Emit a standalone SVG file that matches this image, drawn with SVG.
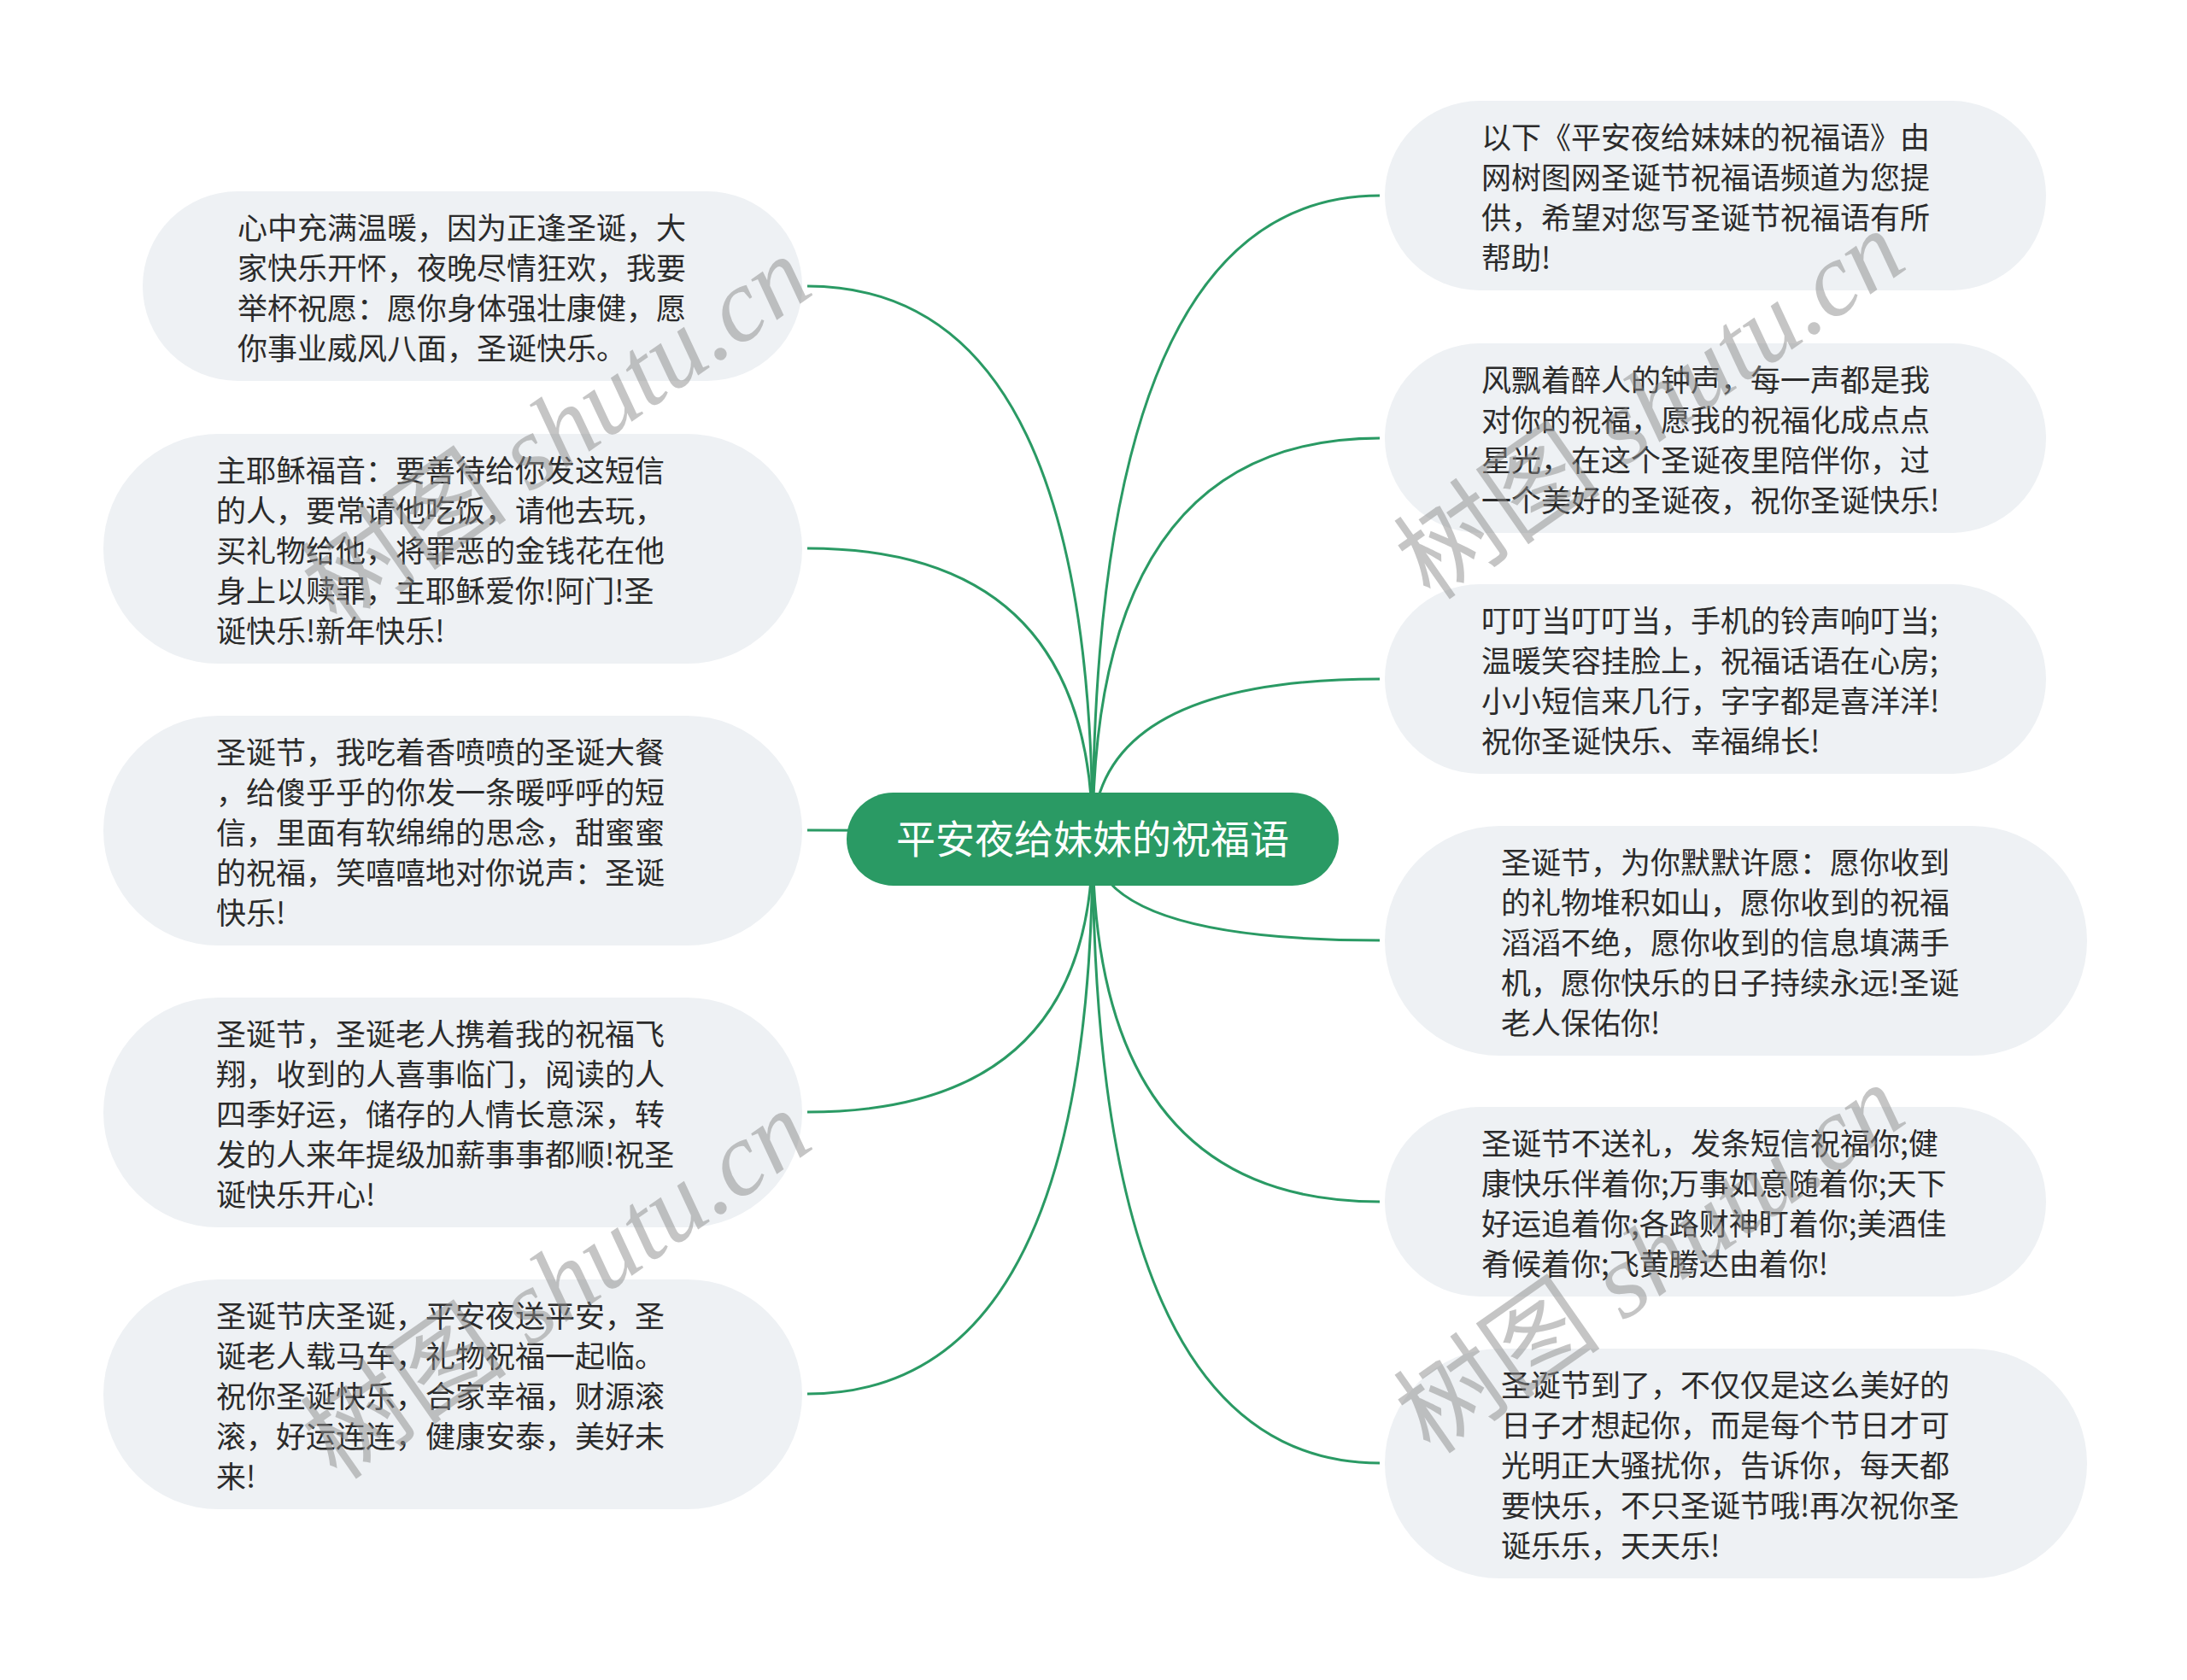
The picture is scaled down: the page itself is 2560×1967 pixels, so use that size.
<svg xmlns="http://www.w3.org/2000/svg" width="2560" height="1967" viewBox="0 0 2560 1967">
<style>
.conn{fill:none;stroke:#2a9a64;stroke-width:3}
.node{fill:#eef1f4}
.txt{font-family:"Noto Sans CJK SC","Noto Sans",sans-serif;font-size:35px;fill:#2b2b2b}
.ctr{fill:#2a9a64}
.ctxt{font-family:"Noto Sans CJK SC","Noto Sans",sans-serif;font-size:46px;fill:#ffffff}
.wm{font-family:"Liberation Serif","Noto Sans CJK SC",serif;font-size:122px;fill:#8c8c8c;opacity:0.5}
</style>
<rect width="2560" height="1967" fill="#ffffff"/>
<g id="connectors">
<path class="conn" d="M1279 983 Q1279 335 945 335"/>
<path class="conn" d="M1279 983 Q1279 642 945 642"/>
<path class="conn" d="M1279 983 Q1279 972 945 972"/>
<path class="conn" d="M1279 983 Q1279 1302 945 1302"/>
<path class="conn" d="M1279 983 Q1279 1632 945 1632"/>
<path class="conn" d="M1279 983 Q1279 229 1615 229"/>
<path class="conn" d="M1279 983 Q1279 513 1615 513"/>
<path class="conn" d="M1279 983 Q1279 795 1615 795"/>
<path class="conn" d="M1279 983 Q1279 1101 1615 1101"/>
<path class="conn" d="M1279 983 Q1279 1407 1615 1407"/>
<path class="conn" d="M1279 983 Q1279 1713 1615 1713"/>
</g>
<g id="center">
<rect class="ctr" x="991" y="928" width="576" height="109" rx="54.5"/>
<text class="ctxt" x="1279" y="999" text-anchor="middle">平安夜给妹妹的祝福语</text>
</g>
<g id="L1">
<rect class="node" x="167" y="224" width="772" height="222" rx="111"/>
<text class="txt"><tspan x="278" y="280">心中充满温暖，因为正逢圣诞，大</tspan><tspan x="278" y="327">家快乐开怀，夜晚尽情狂欢，我要</tspan><tspan x="278" y="374">举杯祝愿：愿你身体强壮康健，愿</tspan><tspan x="278" y="421">你事业威风八面，圣诞快乐。</tspan></text>
</g>
<g id="L2">
<rect class="node" x="121" y="508" width="818" height="269" rx="134.5"/>
<text class="txt"><tspan x="253" y="564">主耶稣福音：要善待给你发这短信</tspan><tspan x="253" y="611">的人，要常请他吃饭，请他去玩，</tspan><tspan x="253" y="658">买礼物给他，将罪恶的金钱花在他</tspan><tspan x="253" y="705">身上以赎罪，主耶稣爱你!阿门!圣</tspan><tspan x="253" y="752">诞快乐!新年快乐!</tspan></text>
</g>
<g id="L3">
<rect class="node" x="121" y="838" width="818" height="269" rx="134.5"/>
<text class="txt"><tspan x="253" y="894">圣诞节，我吃着香喷喷的圣诞大餐</tspan><tspan x="253" y="941">，给傻乎乎的你发一条暖呼呼的短</tspan><tspan x="253" y="988">信，里面有软绵绵的思念，甜蜜蜜</tspan><tspan x="253" y="1035">的祝福，笑嘻嘻地对你说声：圣诞</tspan><tspan x="253" y="1082">快乐!</tspan></text>
</g>
<g id="L4">
<rect class="node" x="121" y="1168" width="818" height="269" rx="134.5"/>
<text class="txt"><tspan x="253" y="1224">圣诞节，圣诞老人携着我的祝福飞</tspan><tspan x="253" y="1271">翔，收到的人喜事临门，阅读的人</tspan><tspan x="253" y="1318">四季好运，储存的人情长意深，转</tspan><tspan x="253" y="1365">发的人来年提级加薪事事都顺!祝圣</tspan><tspan x="253" y="1412">诞快乐开心!</tspan></text>
</g>
<g id="L5">
<rect class="node" x="121" y="1498" width="818" height="269" rx="134.5"/>
<text class="txt"><tspan x="253" y="1554">圣诞节庆圣诞，平安夜送平安，圣</tspan><tspan x="253" y="1601">诞老人载马车，礼物祝福一起临。</tspan><tspan x="253" y="1648">祝你圣诞快乐，合家幸福，财源滚</tspan><tspan x="253" y="1695">滚，好运连连，健康安泰，美好未</tspan><tspan x="253" y="1742">来!</tspan></text>
</g>
<g id="R1">
<rect class="node" x="1621" y="118" width="774" height="222" rx="111"/>
<text class="txt"><tspan x="1734" y="174">以下《平安夜给妹妹的祝福语》由</tspan><tspan x="1734" y="221">网树图网圣诞节祝福语频道为您提</tspan><tspan x="1734" y="268">供，希望对您写圣诞节祝福语有所</tspan><tspan x="1734" y="315">帮助!</tspan></text>
</g>
<g id="R2">
<rect class="node" x="1621" y="402" width="774" height="222" rx="111"/>
<text class="txt"><tspan x="1734" y="458">风飘着醉人的钟声，每一声都是我</tspan><tspan x="1734" y="505">对你的祝福，愿我的祝福化成点点</tspan><tspan x="1734" y="552">星光，在这个圣诞夜里陪伴你，过</tspan><tspan x="1734" y="599">一个美好的圣诞夜，祝你圣诞快乐!</tspan></text>
</g>
<g id="R3">
<rect class="node" x="1621" y="684" width="774" height="222" rx="111"/>
<text class="txt"><tspan x="1734" y="740">叮叮当叮叮当，手机的铃声响叮当;</tspan><tspan x="1734" y="787">温暖笑容挂脸上，祝福话语在心房;</tspan><tspan x="1734" y="834">小小短信来几行，字字都是喜洋洋!</tspan><tspan x="1734" y="881">祝你圣诞快乐、幸福绵长!</tspan></text>
</g>
<g id="R4">
<rect class="node" x="1621" y="967" width="822" height="269" rx="134.5"/>
<text class="txt"><tspan x="1757" y="1023">圣诞节，为你默默许愿：愿你收到</tspan><tspan x="1757" y="1070">的礼物堆积如山，愿你收到的祝福</tspan><tspan x="1757" y="1117">滔滔不绝，愿你收到的信息填满手</tspan><tspan x="1757" y="1164">机，愿你快乐的日子持续永远!圣诞</tspan><tspan x="1757" y="1211">老人保佑你!</tspan></text>
</g>
<g id="R5">
<rect class="node" x="1621" y="1296" width="774" height="222" rx="111"/>
<text class="txt"><tspan x="1734" y="1352">圣诞节不送礼，发条短信祝福你;健</tspan><tspan x="1734" y="1399">康快乐伴着你;万事如意随着你;天下</tspan><tspan x="1734" y="1446">好运追着你;各路财神盯着你;美酒佳</tspan><tspan x="1734" y="1493">肴候着你;飞黄腾达由着你!</tspan></text>
</g>
<g id="R6">
<rect class="node" x="1621" y="1579" width="822" height="269" rx="134.5"/>
<text class="txt"><tspan x="1757" y="1635">圣诞节到了，不仅仅是这么美好的</tspan><tspan x="1757" y="1682">日子才想起你，而是每个节日才可</tspan><tspan x="1757" y="1729">光明正大骚扰你，告诉你，每天都</tspan><tspan x="1757" y="1776">要快乐，不只圣诞节哦!再次祝你圣</tspan><tspan x="1757" y="1823">诞乐乐，天天乐!</tspan></text>
</g>
<g id="watermarks">
<text class="wm" transform="translate(395 735) rotate(-35)">树图 <tspan font-style="italic">shutu.cn</tspan></text>
<text class="wm" transform="translate(395 1735) rotate(-35)">树图 <tspan font-style="italic">shutu.cn</tspan></text>
<text class="wm" transform="translate(1675 705) rotate(-35)">树图 <tspan font-style="italic">shutu.cn</tspan></text>
<text class="wm" transform="translate(1675 1705) rotate(-35)">树图 <tspan font-style="italic">shutu.cn</tspan></text>
</g>
</svg>
